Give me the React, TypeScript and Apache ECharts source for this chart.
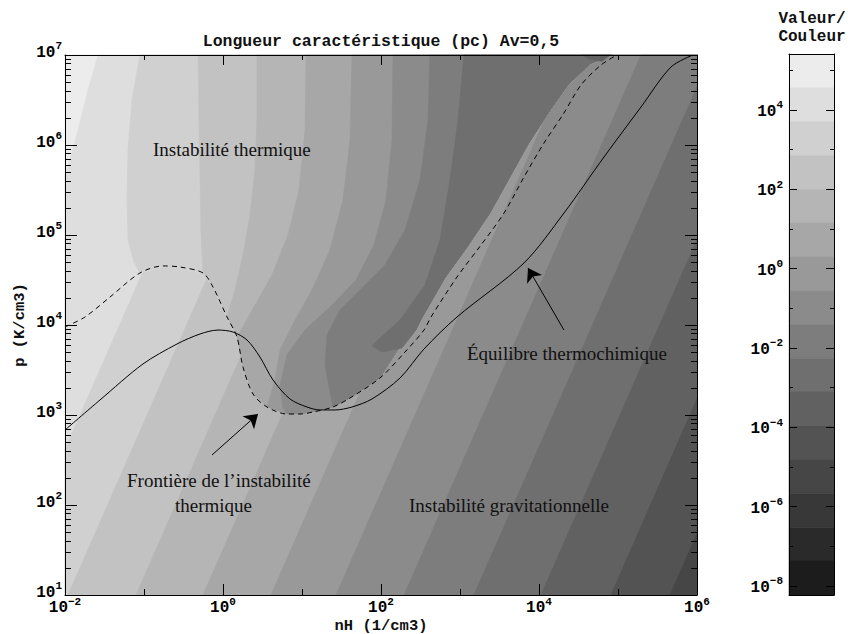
import React, { useEffect, useRef } from "react";
import * as echarts from "echarts";

type Pt = [number, number];

// Axis extents, in log10 units (nH from 1e-2 to 1e6, p from 1e1 to 1e7)
const xRange: Pt = [-2, 6];
const yRange: Pt = [1, 7];

// 16 grey levels of the colour bar, light (top) to dark (bottom)
const bandGrays = [
  "#ececec", "#dedede", "#d0d0d0", "#c2c2c2", "#b5b5b5", "#a7a7a7", "#999999", "#8b8b8b",
  "#7d7d7d", "#6f6f6f", "#616161", "#535353", "#464646", "#383838", "#2a2a2a", "#1c1c1c",
];
// level boundaries of the colour bar, log10(value), top to bottom
const colorbarLevels = [
  5.41, 4.56, 3.70, 2.85, 2.0, 1.15, 0.30, -0.55, -1.41, -2.26, -3.11, -3.96, -4.81, -5.67, -6.52, -7.37, -8.23,
];
const cbLabelExps = [-8, -6, -4, -2, 0, 2, 4];
const cbMinorExps = [-7, -5, -3, -1, 1, 3, 5];
const yMinorMultipliers = [2, 3, 4, 5, 6, 7, 8, 9];
const yDecades = [1, 2, 3, 4, 5, 6];

// Équilibre thermochimique (log10 nH, log10 p)
const equilibriumCurve: Pt[] = [
  [-2, 2.833], [-1.557, 3.167], [-1.013, 3.567], [-0.582, 3.789], [-0.291, 3.9], [-0.063, 3.944],
  [0.127, 3.922], [0.304, 3.833], [0.468, 3.644], [0.633, 3.389], [0.848, 3.178], [1.063, 3.089],
  [1.228, 3.056], [1.418, 3.056], [1.633, 3.089], [1.886, 3.178], [2.241, 3.411], [2.544, 3.733],
  [2.962, 4.089], [3.81, 4.689], [4.316, 5.244], [4.823, 5.867], [5.291, 6.422], [5.671, 6.867], [5.949, 7],
];

// Frontière de l'instabilité thermique (dashed)
const instabilityFrontier: Pt[] = [
  [-2, 3.978], [-1.747, 4.089], [-1.43, 4.311], [-1.051, 4.578], [-0.759, 4.656], [-0.544, 4.644],
  [-0.253, 4.578], [-0.127, 4.422], [0.051, 4.089], [0.177, 3.867], [0.253, 3.533], [0.38, 3.233],
  [0.557, 3.089], [0.81, 3.011], [0.975, 3.011], [1.139, 3.033], [1.392, 3.089], [1.608, 3.189],
  [1.987, 3.411], [2.304, 3.7], [2.544, 3.944], [2.633, 4.089], [2.962, 4.533], [3.266, 4.889],
  [3.557, 5.244], [3.81, 5.644], [4.063, 6.022], [4.316, 6.356], [4.532, 6.667], [4.785, 6.889], [4.987, 7],
];

// edge of the thermal-length field (jagged edge, slightly inside the frontier)
const thermalFieldEdge: Pt[] = [
  [-2, 3.978], [-1.747, 4.089], [-1.43, 4.311], [-1.051, 4.578], [-0.759, 4.656], [-0.544, 4.644],
  [-0.253, 4.578], [-0.127, 4.422], [0.051, 4.089], [0.177, 3.867], [0.253, 3.533], [0.38, 3.233],
  [0.557, 3.089], [0.81, 3.011], [0.975, 3.011], [1.139, 3.033], [1.392, 3.089], [1.608, 3.189],
  [1.987, 3.411], [2.215, 3.722], [2.443, 3.944], [2.519, 4.078], [2.81, 4.522], [3.101, 4.878],
  [3.38, 5.244], [3.633, 5.644], [3.873, 6.022], [4.127, 6.367], [4.367, 6.667], [4.646, 6.9],
  [4.772, 6.944], [4.924, 7],
];

// gravitational-length contours: band on the right/lower side of each line
const gravContours: { band: number; line: Pt[] }[] = [
  { band: 1, line: [[-2, 4.316], [-0.658, 7]] },
  { band: 2, line: [[-2, 2.62], [0.19, 7]] },
  { band: 3, line: [[-1.962, 1], [1.038, 7]] },
  { band: 4, line: [[-1.101, 1], [1.899, 7]] },
  { band: 5, line: [[-0.253, 1], [2.747, 7]] },
  { band: 6, line: [[0.608, 1], [3.608, 7]] },
  { band: 7, line: [[1.43, 1], [4.43, 7]] },
  { band: 8, line: [[2.291, 1], [5.291, 7]] },
  { band: 9, line: [[3.177, 1], [6, 6.646]] },
  { band: 10, line: [[4.025, 1], [6, 4.95]] },
  { band: 11, line: [[4.911, 1], [6, 3.178]] },
  { band: 12, line: [[5.658, 1], [6, 1.684]] },
];

// thermal-length contours: from the top edge down to the field edge (join = edge index, -1 = left edge)
const thermalContours: { band: number; line: Pt[]; join: number }[] = [
  { band: 1, join: -1, line: [[-1.582, 7], [-1.709, 6.611], [-1.835, 6.167], [-1.937, 5.833], [-2, 5.667]] },
  { band: 2, join: 3, line: [[-1.051, 7], [-1.152, 6.5], [-1.203, 5.944], [-1.215, 5.389], [-1.203, 4.944], [-1.127, 4.7]] },
  { band: 3, join: 6, line: [[-0.316, 7], [-0.304, 6.3], [-0.29, 5.6], [-0.28, 5.05], [-0.262, 4.7]] },
  { band: 4, join: 8, line: [[0.43, 7], [0.43, 6.278], [0.405, 5.722], [0.342, 5.222], [0.253, 4.778], [0.152, 4.389]] },
  { band: 5, join: 9, line: [[1.051, 7], [1.038, 6.167], [0.962, 5.5], [0.823, 5.0], [0.62, 4.556], [0.405, 4.222], [0.215, 3.922]] },
  { band: 6, join: 12, line: [[1.633, 7], [1.608, 6.056], [1.519, 5.389], [1.354, 4.833], [1.127, 4.389], [0.899, 4.033], [0.722, 3.722], [0.658, 3.389]] },
  { band: 7, join: 13, line: [[2.152, 7], [2.139, 6.056], [2.063, 5.389], [1.911, 4.889], [1.684, 4.5], [1.38, 4.222], [1.038, 3.944], [0.81, 3.667], [0.722, 3.333], [0.759, 3.078]] },
  { band: 8, join: 16, line: [[2.62, 7], [2.595, 6.278], [2.494, 5.611], [2.304, 5.056], [2.051, 4.667], [1.734, 4.389], [1.481, 4.167], [1.316, 3.889], [1.291, 3.556], [1.354, 3.256]] },
  { band: 9, join: 20, line: [[3.051, 7], [2.975, 6.278], [2.873, 5.611], [2.747, 4.944], [2.557, 4.444], [2.241, 4.056], [1.987, 3.856], [1.886, 3.767], [2.013, 3.7], [2.266, 3.744]] },
];
const thermalCap: { band: number; line: Pt[] } = {
  band: 10, line: [[4.544, 7], [4.65, 6.95], [4.8, 6.93], [4.9, 7]],
};

// annotation arrows: [tail, head]
const arrowEquilibrium: Pt[] = [[4.316, 3.944], [3.861, 4.633]];
const arrowFrontier: Pt[] = [[-0.139, 2.556], [0.443, 3.011]];

const MONO = '"Liberation Mono", "DejaVu Sans Mono", monospace';
const SERIF = '"Liberation Serif", "DejaVu Serif", serif';

function closeGrav(line: Pt[]): Pt[] {
  const pts: Pt[] = line.map((p) => [p[0], p[1]] as Pt);
  const s = line[0];
  const e = line[line.length - 1];
  if (e[1] >= yRange[1]) pts.push([xRange[1], yRange[1]]);
  pts.push([xRange[1], yRange[0]]);
  if (s[1] > yRange[0]) pts.push([xRange[0], yRange[0]]);
  return pts;
}
function closeThermal(line: Pt[], join: number): Pt[] {
  return join < 0 ? [...line, ...thermalFieldEdge] : [...line, ...thermalFieldEdge.slice(join)];
}

const layers: { pts: Pt[]; band: number }[] = [
  { band: 0, pts: [[xRange[0], yRange[0]], [xRange[0], yRange[1]], [xRange[1], yRange[1]], [xRange[1], yRange[0]]] },
  ...gravContours.map((c) => ({ band: c.band, pts: closeGrav(c.line) })),
  { band: 0, pts: [[xRange[0], yRange[1]], ...thermalFieldEdge] },
  ...thermalContours.map((c) => ({ band: c.band, pts: closeThermal(c.line, c.join) })),
  { band: thermalCap.band, pts: thermalCap.line },
];

const yMinorTicks: number[] = [];
yDecades.forEach((d) => yMinorMultipliers.forEach((m) => yMinorTicks.push(d + Math.log10(m))));

const expLabel = (v: number) => {
  const n = Math.round(v);
  return `{b|10}{s|${n < 0 ? "\u2212" + -n : n}}`;
};
const richExp = {
  b: { fontFamily: MONO, fontSize: 16, fontWeight: "bold", color: "#000", verticalAlign: "bottom" },
  s: { fontFamily: MONO, fontSize: 11, fontWeight: "bold", color: "#000", verticalAlign: "bottom", padding: [0, 0, 9, 0] },
};

const blankAxis = {
  type: "value",
  z: 10,
  axisLine: { show: false, onZero: false },
  splitLine: { show: false },
  axisLabel: { show: false },
  axisTick: { show: false },
};
const blackLine = { show: true, onZero: false, lineStyle: { color: "#000", width: 1 } };
const tick = (length: number, extra: any = {}) => ({ show: true, inside: true, length, lineStyle: { color: "#000", width: 1 }, ...extra });

const mainX = { gridIndex: 0, min: xRange[0], max: xRange[1] };
const mainY = { gridIndex: 0, min: yRange[0], max: yRange[1] };
const cbX = { gridIndex: 1, min: 0, max: 1 };
const cbY = { gridIndex: 1, min: colorbarLevels[colorbarLevels.length - 1], max: colorbarLevels[0] };

const text = (t: string, x: number, y: number, font: string, align = "left", extra: any = {}) => ({
  type: "text",
  x,
  y,
  z: 100,
  ...extra,
  style: { text: t, font, fill: "#111", align, textAlign: align, verticalAlign: "middle", textVerticalAlign: "middle" },
});

const option: any = {
  animation: false,
  backgroundColor: "#fff",
  grid: [
    { left: 65, top: 55, width: 632, height: 540, outerBoundsMode: "none" },
    { left: 789, top: 54, width: 45, height: 541, outerBoundsMode: "none" },
  ],
  xAxis: [
    { ...blankAxis, ...mainX, position: "bottom", interval: 2, axisLine: blackLine, axisTick: tick(11),
      axisLabel: { show: true, formatter: expLabel, rich: richExp, margin: 1 } },
    { ...blankAxis, ...mainX, position: "bottom", interval: 1, axisTick: tick(6) },
    { ...blankAxis, ...mainX, position: "top", interval: 2, axisLine: blackLine, axisTick: tick(10) },
    { ...blankAxis, ...mainX, position: "top", interval: 1, axisTick: tick(5) },
    { ...blankAxis, ...cbX, position: "bottom", axisLine: blackLine },
    { ...blankAxis, ...cbX, position: "top", axisLine: blackLine },
  ],
  yAxis: [
    { ...blankAxis, ...mainY, position: "left", interval: 1, axisLine: blackLine, axisTick: tick(12),
      axisLabel: { show: true, formatter: expLabel, rich: richExp, margin: 3, padding: [0, 0, 9, 0] } },
    { ...blankAxis, ...mainY, position: "left", axisTick: tick(6, { customValues: yMinorTicks }) },
    { ...blankAxis, ...mainY, position: "right", interval: 1, axisLine: blackLine, axisTick: tick(12) },
    { ...blankAxis, ...mainY, position: "right", axisTick: tick(6, { customValues: yMinorTicks }) },
    { ...blankAxis, ...cbY, position: "left", axisLine: blackLine, axisTick: tick(8, { customValues: cbLabelExps }),
      axisLabel: { show: true, customValues: cbLabelExps, formatter: expLabel, rich: richExp, margin: 6 } },
    { ...blankAxis, ...cbY, position: "left", axisTick: tick(4, { customValues: cbMinorExps }) },
    { ...blankAxis, ...cbY, position: "right", axisLine: blackLine, axisTick: tick(8, { customValues: cbLabelExps }) },
    { ...blankAxis, ...cbY, position: "right", axisTick: tick(4, { customValues: cbMinorExps }) },
  ],
  series: [
    {
      type: "custom",
      name: "Longueur caractéristique (pc)",
      coordinateSystem: "cartesian2d",
      xAxisIndex: 0,
      yAxisIndex: 0,
      silent: true,
      z: 1,
      data: layers.map((l) => l.pts[0]),
      encode: { x: 0, y: 1 },
      renderItem: (params: any, api: any) => {
        const l = layers[params.dataIndex];
        const c = bandGrays[l.band];
        return {
          type: "polygon",
          shape: { points: l.pts.map((p) => api.coord(p)) },
          style: { fill: c, stroke: c, lineWidth: 0.6 },
        };
      },
    },
    {
      type: "line",
      name: "Équilibre thermochimique",
      xAxisIndex: 0,
      yAxisIndex: 0,
      data: equilibriumCurve,
      showSymbol: false,
      symbol: "none",
      smooth: 0.3,
      z: 5,
      lineStyle: { color: "#000", width: 1 },
    },
    {
      type: "line",
      name: "Frontière de l'instabilité thermique",
      xAxisIndex: 0,
      yAxisIndex: 0,
      data: instabilityFrontier,
      showSymbol: false,
      symbol: "none",
      smooth: 0.3,
      z: 5,
      lineStyle: { color: "#000", width: 1, type: [5, 4] },
    },
    {
      type: "lines",
      coordinateSystem: "cartesian2d",
      xAxisIndex: 0,
      yAxisIndex: 0,
      z: 6,
      symbol: ["none", "arrow"],
      symbolSize: [8, 13],
      lineStyle: { color: "#000", width: 1, opacity: 1 },
      data: [{ coords: arrowEquilibrium }, { coords: arrowFrontier }],
    },
    {
      type: "custom",
      name: "Valeur/Couleur",
      coordinateSystem: "cartesian2d",
      xAxisIndex: 4,
      yAxisIndex: 4,
      silent: true,
      z: 1,
      data: bandGrays.map((_, i) => [0.5, (colorbarLevels[i] + colorbarLevels[i + 1]) / 2]),
      encode: { x: 0, y: 1 },
      renderItem: (params: any, api: any) => {
        const i = params.dataIndex;
        const a = api.coord([0, colorbarLevels[i]]);
        const b = api.coord([1, colorbarLevels[i + 1]]);
        return {
          type: "rect",
          shape: { x: a[0], y: a[1], width: b[0] - a[0], height: b[1] - a[1] },
          style: { fill: bandGrays[i], stroke: bandGrays[i], lineWidth: 0.5 },
        };
      },
    },
  ],
  graphic: [
    text("Longueur caractéristique (pc) Av=0,5", 381, 41, `bold 16.5px ${MONO}`, "center"),
    text("nH (1/cm3)", 381, 626, `bold 15.5px ${MONO}`, "center"),
    text("p (K/cm3)", 20, 325, `bold 15.5px ${MONO}`, "center", { rotation: Math.PI / 2 }),
    text("Valeur/", 812, 19, `bold 16px ${MONO}`, "center"),
    text("Couleur", 812, 37, `bold 16px ${MONO}`, "center"),
    text("Instabilité thermique", 153, 149, `19px ${SERIF}`),
    text("Équilibre thermochimique", 467, 353, `19px ${SERIF}`),
    text("Frontière de l\u2019instabilité", 127, 480, `19px ${SERIF}`),
    text("thermique", 175, 505, `19px ${SERIF}`),
    text("Instabilité gravitationnelle", 409, 505, `19px ${SERIF}`),
  ],
};

export default function App() {
  const ref = useRef<HTMLDivElement>(null);
  useEffect(() => {
    if (!ref.current) return;
    const chart = echarts.init(ref.current, null, { renderer: "svg" });
    chart.setOption(option);
    return () => chart.dispose();
  }, []);
  return (
    <div
      ref={ref}
      style={{ position: "fixed", left: 0, top: 0, width: 848, height: 634, background: "#fff" }}
    />
  );
}
